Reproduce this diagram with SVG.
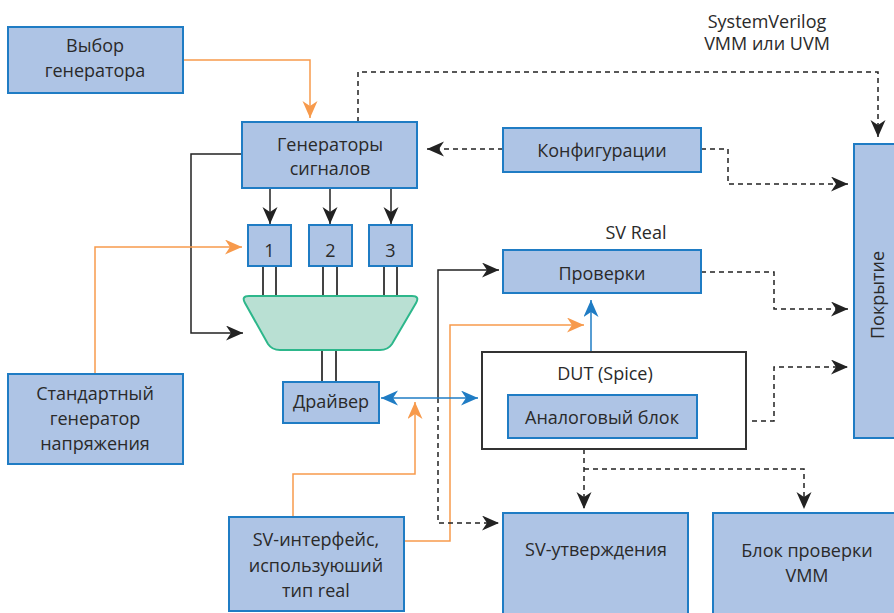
<svg xmlns="http://www.w3.org/2000/svg" width="894" height="613" viewBox="0 0 894 613">
<style>
.box{fill:#aec4e5;stroke:#1f7cc4;stroke-width:2}
.t{font-family:"Open Sans","Liberation Sans",sans-serif;font-size:18px;fill:#2a2a2a;text-anchor:middle}
.k{fill:none;stroke:#222;stroke-width:1.5}
.d{fill:none;stroke:#222;stroke-width:1.5;stroke-dasharray:5,4}
.o{fill:none;stroke:#f79a4c;stroke-width:1.5}
.b{fill:none;stroke:#1f7cc4;stroke-width:1.5}
.w{fill:none;stroke:#444;stroke-width:2}
</style>
<defs>
<marker id="ak" markerUnits="userSpaceOnUse" markerWidth="19" markerHeight="16" refX="17" refY="7.5" orient="auto"><path d="M0,0 L17,7.5 L0,15 L5,7.5 Z" fill="#222"/></marker>
<marker id="ao" markerUnits="userSpaceOnUse" markerWidth="19" markerHeight="16" refX="17" refY="7.5" orient="auto"><path d="M0,0 L17,7.5 L0,15 L5,7.5 Z" fill="#f79a4c"/></marker>
<marker id="ab" markerUnits="userSpaceOnUse" markerWidth="19" markerHeight="16" refX="17" refY="7.5" orient="auto-start-reverse"><path d="M0,0 L17,7.5 L0,15 L5,7.5 Z" fill="#1f7cc4"/></marker>
</defs>

<g id="connectors">
<path class="o" d="M183,60 H310 V118" marker-end="url(#ao)"/>
<path class="k" d="M242,154 H191 V333 H243" marker-end="url(#ak)"/>
<path class="k" d="M270,188 V224" marker-end="url(#ak)"/>
<path class="k" d="M330,188 V224" marker-end="url(#ak)"/>
<path class="k" d="M391,188 V224" marker-end="url(#ak)"/>
<path class="o" d="M95,374 V247 H242" marker-end="url(#ao)"/>
<path class="w" d="M263,266 V296 M276,266 V296 M323,266 V296 M337,266 V296 M384,266 V296 M397,266 V296"/>
<path class="w" d="M322,350 V382 M336,350 V382"/>
<path class="o" d="M293,517 V474 H415 V402" marker-end="url(#ao)"/>
<path class="o" d="M404,541 H450 V325 H584" marker-end="url(#ao)"/>
<path class="k" d="M438,398 V270 H499" marker-end="url(#ak)"/>
<path class="d" d="M438,398 V523 H499" marker-end="url(#ak)"/>
<path class="b" d="M381,398 H478" marker-start="url(#ab)" marker-end="url(#ab)"/>
<path class="b" d="M591,352 V300" marker-end="url(#ab)"/>
<path class="d" d="M503,149 H427" marker-end="url(#ak)"/>
<path class="d" d="M701,149 H728 V184 H848" marker-end="url(#ak)"/>
<path class="d" d="M358,122 V72 H878 V137" marker-end="url(#ak)"/>
<path class="d" d="M701,272 H774 V309 H848" marker-end="url(#ak)"/>
<path class="d" d="M752,421 H774 V367 H848" marker-end="url(#ak)"/>
<path class="d" d="M584,449 V509" marker-end="url(#ak)"/>
<path class="d" d="M584,469 H804 V509" marker-end="url(#ak)"/>
</g>

<text class="t" x="767" y="28">SystemVerilog</text>
<text class="t" x="767" y="50">VMM или UVM</text>
<text class="t" x="636" y="239">SV Real</text>

<g id="vybor">
<rect class="box" x="8" y="27" width="175" height="66"/>
<text class="t" x="95" y="52">Выбор</text>
<text class="t" x="95" y="77">генератора</text>
</g>
<g id="generatory">
<rect class="box" x="242" y="122" width="175" height="66"/>
<text class="t" x="330" y="151">Генераторы</text>
<text class="t" x="330" y="175">сигналов</text>
</g>
<g id="n1"><rect class="box" x="248" y="225" width="43" height="41"/><text class="t" x="269.5" y="257">1</text></g>
<g id="n2"><rect class="box" x="309" y="225" width="43" height="41"/><text class="t" x="330.5" y="257">2</text></g>
<g id="n3"><rect class="box" x="369" y="225" width="43" height="41"/><text class="t" x="390.5" y="257">3</text></g>
<g id="mux">
<path d="M249,296 H412 Q420,296 416,303 L392,344 Q388,350 380,350 H280 Q272,350 268,344 L245,303 Q241,296 249,296 Z" fill="#b9e0d3" stroke="#2db78b" stroke-width="2"/>
</g>
<g id="driver">
<rect class="box" x="283" y="382" width="96" height="41"/>
<text class="t" x="331" y="408">Драйвер</text>
</g>
<g id="standard">
<rect class="box" x="8" y="374" width="175" height="90"/>
<text class="t" x="95" y="400">Стандартный</text>
<text class="t" x="95" y="425">генератор</text>
<text class="t" x="95" y="450">напряжения</text>
</g>
<g id="svinterface">
<rect class="box" x="229" y="517" width="175" height="94"/>
<text class="t" x="316" y="546">SV-интерфейс,</text>
<text class="t" x="316" y="572">используюший</text>
<text class="t" x="316" y="597">тип real</text>
</g>
<g id="konfig">
<rect class="box" x="503" y="128" width="198" height="44"/>
<text class="t" x="602" y="157">Конфигурации</text>
</g>
<g id="proverki">
<rect class="box" x="503" y="250" width="198" height="43"/>
<text class="t" x="602" y="280">Проверки</text>
</g>
<g id="dut">
<rect x="482" y="352" width="264" height="97" fill="#fff" stroke="#333" stroke-width="2"/>
<text class="t" x="605" y="380">DUT (Spice)</text>
<rect class="box" x="508" y="395" width="189" height="43"/>
<text class="t" x="602" y="424">Аналоговый блок</text>
</g>
<g id="pokrytie">
<rect class="box" x="854" y="144" width="50" height="294"/>
<text class="t" transform="translate(884,295) rotate(-90)">Покрытие</text>
</g>
<g id="svassert">
<rect class="box" x="503" y="513" width="185" height="110"/>
<text class="t" x="596" y="556">SV-утверждения</text>
</g>
<g id="vmm">
<rect class="box" x="713" y="513" width="190" height="110"/>
<text class="t" x="807" y="557">Блок проверки</text>
<text class="t" x="807" y="582">VMM</text>
</g>
</svg>
